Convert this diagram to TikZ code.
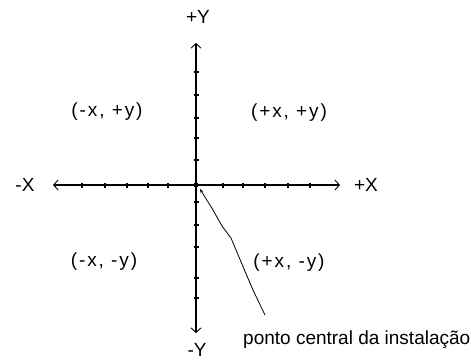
\documentclass[tikz,border=0pt]{standalone}
\usepackage{fontspec}
\setmainfont{Liberation Sans}
\usetikzlibrary{arrows.meta}
\begin{document}
\begin{tikzpicture}[x=1pt,y=-1pt,
  axis/.style={line width=1.3pt,-{Straight Barb[length=4.5pt,width=10pt,line width=0.9pt]}},
  tick/.style={line width=1.3pt},
  lbl/.style={font=\fontsize{19}{22}\selectfont\addfontfeature{LetterSpace=10}, inner sep=0pt},
  axlbl/.style={font=\fontsize{19}{22}\selectfont, inner sep=0pt},
  every node/.style={text=black}]
\useasboundingbox (0,0) rectangle (471,360);
\coordinate (O) at (196,185);
\coordinate (xl) at (53,185);
\coordinate (xr) at (340,185);
\coordinate (yt) at (196,43);
\coordinate (yb) at (196,333);
\draw[axis] (O) -- (xl);
\draw[axis] (O) -- (xr);
\draw[axis] (O) -- (yt);
\draw[axis] (O) -- (yb);
\foreach \x in {82,105,127,148,168,223,243,265,288,310}
  \draw[tick] (\x,182.5) -- (\x,187.5);
\foreach \y in {72,95,118,138,160,202,225,247,278,298}
  \draw[tick] (193.5,\y) -- (198.5,\y);
\fill (O) circle (2.6pt);
\node[axlbl] (py) at (198,17) {+Y};
\node[axlbl] (my) at (197,350) {-Y};
\node[axlbl] (mx) at (25,185) {-X};
\node[axlbl] (px) at (366,185) {+X};
\node[lbl] (q2) at (107,112) {(-x, +y)};
\node[lbl] (q1) at (289,113) {(+x, +y)};
\node[lbl] (q3) at (104,262) {(-x, -y)};
\node[lbl] (q4) at (289,263) {(+x, -y)};
\node[axlbl, anchor=west] (pc) at (243,340) {ponto central da instalação};
\coordinate (lend) at (265,315);
\draw[line width=0.8pt, line join=round, {Stealth[length=4pt,width=3pt]}-] (200,189) -- (213,210) -- (222,226) -- (231,238) -- (239,257) -- (247,276) -- (253,290) -- (lend);
\end{tikzpicture}
\end{document}
